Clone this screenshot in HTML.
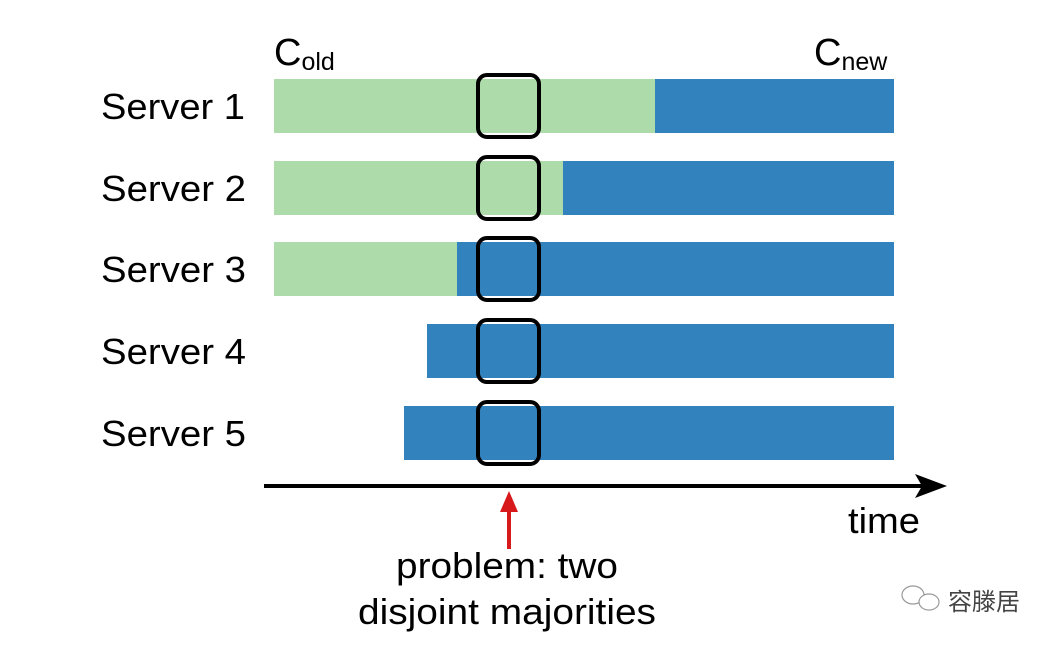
<!DOCTYPE html>
<html><head><style>body{margin:0;background:#fff}</style></head><body>
<svg width="1060" height="646" xmlns="http://www.w3.org/2000/svg" font-family="Liberation Sans, Arial, sans-serif">
<rect width="1060" height="646" fill="#fff"/>
<g fill="#addcaa">
<rect x="274" y="79" width="381" height="54"/>
<rect x="274" y="161" width="289" height="54"/>
<rect x="274" y="242" width="183" height="54"/>
</g>
<g fill="#3182bd">
<rect x="655" y="79" width="239" height="54"/>
<rect x="563" y="161" width="331" height="54"/>
<rect x="457" y="242" width="437" height="54"/>
<rect x="427" y="324" width="467" height="54"/>
<rect x="404" y="406" width="490" height="54"/>
</g>
<g fill="none" stroke="#000" stroke-width="4">
<rect x="478" y="75" width="61" height="62" rx="9"/>
<rect x="478" y="157" width="61" height="62" rx="9"/>
<rect x="478" y="238" width="61" height="62" rx="9"/>
<rect x="478" y="320" width="61" height="62" rx="9"/>
<rect x="478" y="402" width="61" height="62" rx="9"/>
</g>
<g font-size="36" fill="#000">
<text x="101" y="119" textLength="144" lengthAdjust="spacingAndGlyphs">Server 1</text>
<text x="101" y="201" textLength="145" lengthAdjust="spacingAndGlyphs">Server 2</text>
<text x="101" y="282" textLength="145" lengthAdjust="spacingAndGlyphs">Server 3</text>
<text x="101" y="364" textLength="145" lengthAdjust="spacingAndGlyphs">Server 4</text>
<text x="101" y="446" textLength="145" lengthAdjust="spacingAndGlyphs">Server 5</text>
<text x="848" y="533" textLength="72" lengthAdjust="spacingAndGlyphs">time</text>
<text x="396" y="578" textLength="222" lengthAdjust="spacingAndGlyphs">problem: two</text>
<text x="358" y="624" textLength="298" lengthAdjust="spacingAndGlyphs">disjoint majorities</text>
</g>
<text x="274" y="65" font-size="38">C<tspan font-size="25" dy="5">old</tspan></text>
<text x="814" y="65" font-size="38">C<tspan font-size="25" dy="5">new</tspan></text>
<line x1="264" y1="486" x2="925" y2="486" stroke="#000" stroke-width="4"/>
<polygon points="947,486 915,474 922,486 915,498" fill="#000"/>
<line x1="509" y1="549" x2="509" y2="508" stroke="#d7191c" stroke-width="4"/>
<polygon points="509,491 500,512 518,512" fill="#d7191c"/>
<g fill="none" stroke="#999" stroke-width="1.2">
<ellipse cx="913" cy="595" rx="11" ry="9"/>
<ellipse cx="929" cy="602" rx="10" ry="8" fill="#fff"/>
</g>
<text x="948" y="610" font-size="24" fill="#444" font-family="Liberation Sans, Noto Sans CJK SC, sans-serif">容滕居</text>
</svg>
</body></html>
